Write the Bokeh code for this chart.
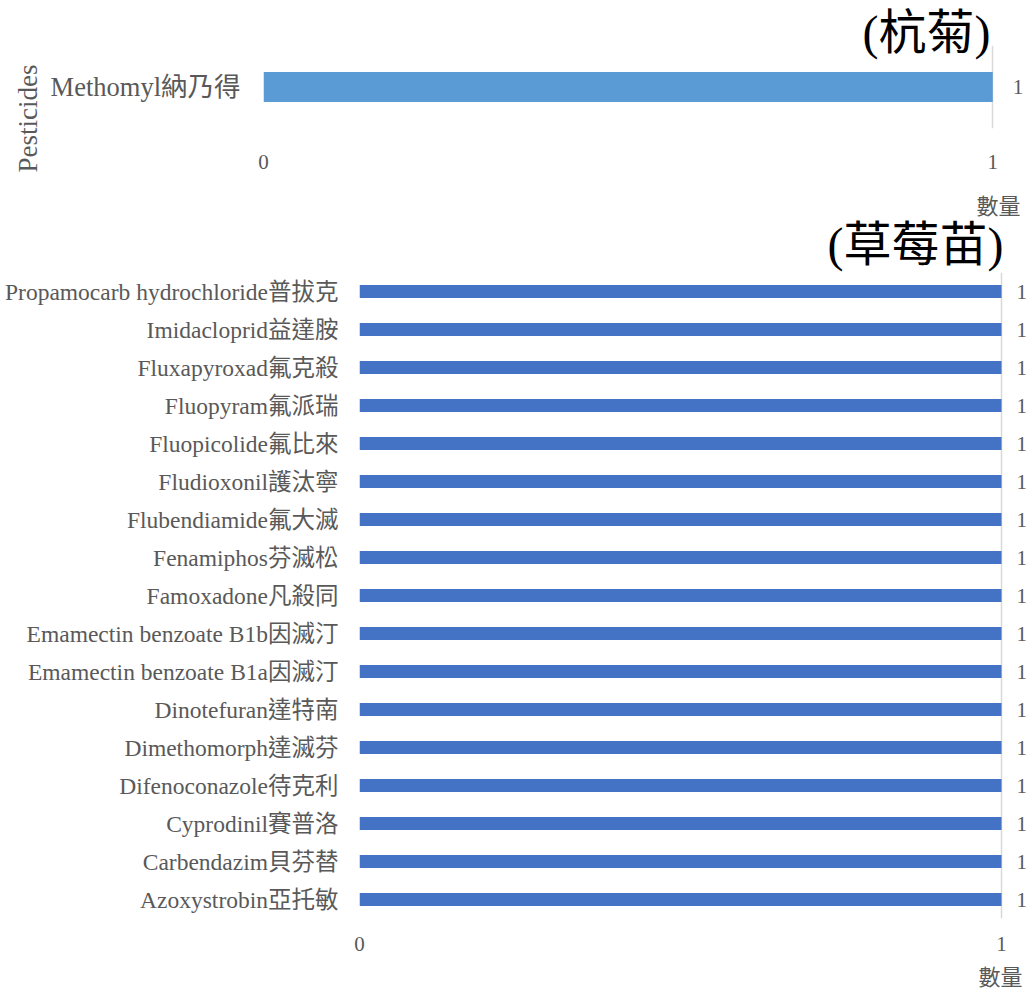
from bokeh.plotting import figure
from bokeh.models import ColumnDataSource, FactorRange, Range1d, FixedTicker, Title
from bokeh.core.properties import value
from bokeh.embed import file_html
from bokeh.resources import INLINE

# Residue counts per pesticide for two crops
chrysanthemum_title = "(杭菊)"
chrysanthemum_pesticides = ["Methomyl納乃得"]
chrysanthemum_counts = [1]

strawberry_title = "(草莓苗)"
strawberry_pesticides = [
    "Propamocarb hydrochloride普拔克",
    "Imidacloprid益達胺",
    "Fluxapyroxad氟克殺",
    "Fluopyram氟派瑞",
    "Fluopicolide氟比來",
    "Fludioxonil護汰寧",
    "Flubendiamide氟大滅",
    "Fenamiphos芬滅松",
    "Famoxadone凡殺同",
    "Emamectin benzoate B1b因滅汀",
    "Emamectin benzoate B1a因滅汀",
    "Dinotefuran達特南",
    "Dimethomorph達滅芬",
    "Difenoconazole待克利",
    "Cyprodinil賽普洛",
    "Carbendazim貝芬替",
    "Azoxystrobin亞托敏",
]
strawberry_counts = [1, 1, 1, 1, 1, 1, 1, 1, 1, 1, 1, 1, 1, 1, 1, 1, 1]

x_ticks = [0, 1]
x_title = "數量"
y_title = "Pesticides"

SERIF = "'Liberation Serif', 'Times New Roman', 'Noto Sans CJK TC'"
GRAY = "#595959"
GRID = "#D9D9D9"


def text_title(text, *, size, color, align, offset, standoff):
    return Title(text=text, align=align, offset=offset, standoff=standoff,
                 text_font=SERIF, text_font_size=f"{size}px",
                 text_font_style="normal", text_color=color)


def make_panel(names, counts, *, height, color, border_left, x_end,
               bar_height, label_size, label_standoff, tick_size, tick_standoff,
               value_offset, border_top, border_bottom):
    # first factor is drawn at the bottom, so list the names bottom-up
    factors = list(reversed(names))
    src = ColumnDataSource(dict(
        name=names,
        count=counts,
        label=[str(c) for c in counts],
    ))
    p = figure(
        title=None,
        y_range=FactorRange(factors=factors, range_padding=0),
        x_range=Range1d(0, x_end),
        width=1030, height=height,
        output_backend="svg", toolbar_location=None,
        min_border_left=border_left, min_border_right=2,
        min_border_top=border_top, min_border_bottom=border_bottom,
    )
    p.outline_line_color = None
    p.background_fill_color = "white"
    p.border_fill_color = "white"

    p.hbar(y="name", left=0, right="count", height=bar_height,
           color=color, line_color=None, source=src)
    p.text(x="count", y="name", text="label", source=src,
           x_offset=value_offset, text_align="left", text_baseline="middle",
           text_font=value(SERIF), text_font_size=f"{tick_size}px",
           text_color=GRAY)

    p.xgrid.ticker = FixedTicker(ticks=x_ticks)
    p.xgrid.grid_line_color = GRID
    p.xgrid.grid_line_width = 1.5
    p.ygrid.grid_line_color = None

    p.xaxis.ticker = FixedTicker(ticks=x_ticks)
    p.xaxis.axis_line_color = None
    p.xaxis.major_tick_line_color = None
    p.xaxis.minor_tick_line_color = None
    p.xaxis.major_label_text_font = SERIF
    p.xaxis.major_label_text_font_size = f"{tick_size}px"
    p.xaxis.major_label_text_color = GRAY
    p.xaxis.major_label_standoff = tick_standoff

    p.yaxis.axis_line_color = None
    p.yaxis.major_tick_line_color = None
    p.yaxis.minor_tick_line_color = None
    p.yaxis.major_label_text_font = SERIF
    p.yaxis.major_label_text_font_size = f"{label_size}px"
    p.yaxis.major_label_text_color = GRAY
    p.yaxis.major_label_standoff = label_standoff
    return p


# upper chart: chrysanthemum
top = make_panel(
    chrysanthemum_pesticides, chrysanthemum_counts,
    height=272, color="#5B9BD5", border_left=263, x_end=1.049,
    bar_height=0.36, label_size=26.5, label_standoff=17,
    tick_size=21, tick_standoff=20,
    value_offset=20, border_top=45, border_bottom=144,
)
top.add_layout(text_title(chrysanthemum_title, size=48, color="black",
                          align="right", offset=38, standoff=-26), "above")
top.add_layout(text_title(y_title, size=27, color=GRAY,
                          align="left", offset=-44, standoff=10), "left")
top.add_layout(text_title(x_title, size=22, color=GRAY,
                          align="right", offset=8, standoff=41), "below")
# heading of the lower chart, tucked under the upper chart's unit label
top.add_layout(text_title(strawberry_title, size=48, color="black",
                          align="right", offset=25, standoff=-48), "below")

# lower chart: strawberry seedlings
bottom = make_panel(
    strawberry_pesticides, strawberry_counts,
    height=727, color="#4472C4", border_left=359, x_end=1.042,
    bar_height=0.34, label_size=23.5, label_standoff=15,
    tick_size=21, tick_standoff=12,
    value_offset=15, border_top=0, border_bottom=79,
)
bottom.add_layout(text_title(x_title, size=22, color=GRAY,
                             align="right", offset=6, standoff=19), "below")

# two independent panels stacked on the page, each keeping its own frame
open("out.html", "w").write(file_html([top, bottom], INLINE))
